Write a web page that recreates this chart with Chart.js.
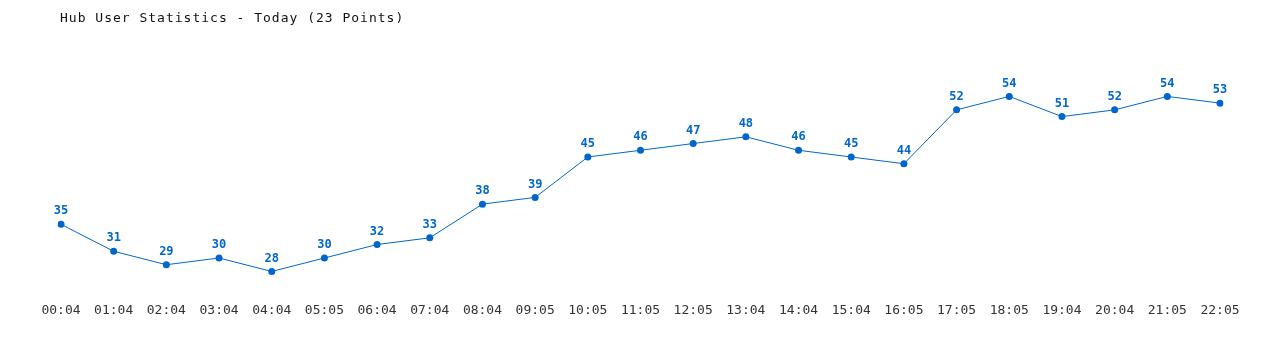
<!DOCTYPE html>
<html>
<head>
<meta charset="utf-8">
<script src="https://cdn.jsdelivr.net/npm/chart.js@4/dist/chart.umd.min.js"></script>
<style>
  html, body { margin: 0; padding: 0; background: #fff; }
  #wrap { width: 1280px; height: 350px; }
</style>
</head>
<body>
<div id="wrap"><canvas id="hubChart"></canvas></div>
<script>
const chartTitle = 'Hub User Statistics - Today (23 Points)';
const timeLabels = ['00:04','01:04','02:04','03:04','04:04','05:05','06:04','07:04','08:04','09:05','10:05','11:05',
                    '12:05','13:04','14:04','15:04','16:05','17:05','18:05','19:04','20:04','21:05','22:05'];
const userCounts = [35,31,29,30,28,30,32,33,38,39,45,46,47,48,46,45,44,52,54,51,52,54,53];

const blue = '#0066cc';
const mono = "'DejaVu Sans Mono', 'Liberation Mono', monospace";

// title + value labels drawn straight on the canvas
const overlay = {
    id: 'overlay',
    afterDatasetsDraw(chart) {
        const ctx = chart.ctx;
        ctx.save();
        ctx.letterSpacing = '1px';
        ctx.fillStyle = '#111';
        ctx.font = '13px ' + mono;
        ctx.textAlign = 'left';
        ctx.textBaseline = 'middle';
        ctx.fillText(chartTitle, 60, 19);

        ctx.letterSpacing = '0px';
        ctx.font = 'bold 12px ' + mono;
        ctx.fillStyle = blue;
        ctx.textAlign = 'center';
        chart.getDatasetMeta(0).data.forEach((pt, i) => {
            ctx.fillText(String(userCounts[i]), pt.x, pt.y - 13);
        });
        ctx.restore();
    }
};

new Chart(document.getElementById('hubChart'), {
    type: 'line',
    data: {
        labels: timeLabels,
        datasets: [{
            data: userCounts,
            borderColor: blue,
            borderWidth: 1,
            backgroundColor: blue,
            pointRadius: 3.5,
            pointHoverRadius: 3.5,
            pointBorderWidth: 0,
            tension: 0
        }]
    },
    options: {
        responsive: true,
        maintainAspectRatio: false,
        animation: false,
        layout: { padding: { left: 61, right: 60, top: 56, bottom: 28 } },
        plugins: { legend: { display: false }, tooltip: { enabled: false } },
        scales: {
            x: {
                offset: false,
                grid: { display: false, drawTicks: false },
                border: { display: false },
                ticks: { color: '#333', font: { family: mono, size: 13 }, padding: 4, maxRotation: 0, autoSkip: false }
            },
            y: {
                display: false,
                min: 24,
                max: 60
            }
        }
    },
    plugins: [overlay]
});
</script>
</body>
</html>
